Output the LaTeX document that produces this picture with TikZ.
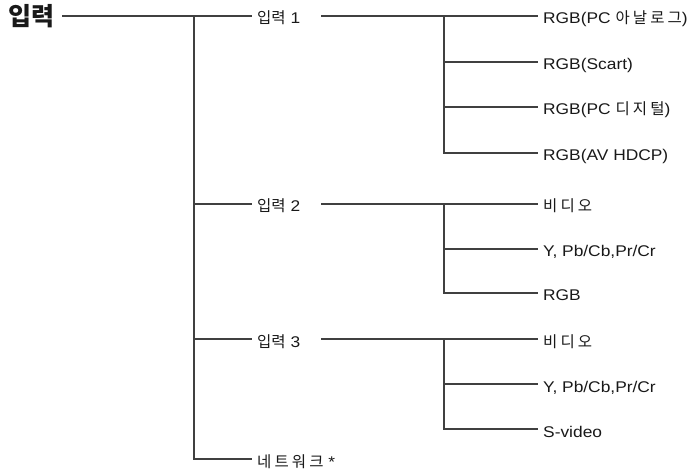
\documentclass[tikz,border=0pt]{standalone}
\usepackage{fontspec}
\setmainfont{Liberation Sans}[FakeStretch=1.12]
\newfontfamily\kr{Noto Sans CJK KR}[LetterSpace=20]
\newfontfamily\krhead{Noto Sans CJK KR}
\usetikzlibrary{positioning}

\begin{document}
\begin{tikzpicture}[x=1pt, y=-1pt,
    wire/.style={draw=black!75, line width=1.2pt},
    item/.style={anchor=west, inner xsep=5pt, inner ysep=0pt, text height=16pt, text depth=0pt,
      text=black!90, font=\fontsize{15.5}{18}\selectfont},
    head/.style={anchor=west, inner sep=0pt, text=black!90, font=\krhead\bfseries\fontsize{25}{28}\selectfont}]
  \useasboundingbox (0,0) rectangle (693,470);

  % first level
  \node[head] (root) at (8,16) {입력};
  \coordinate (j0) at (194,16);
  \node[item] (in1) at (252,16) {{\krhead 입력} 1};
  \node[item] (in2) at (252,204) {{\krhead 입력} 2};
  \node[item] (in3) at (252,339) {{\krhead 입력} 3};
  \node[item] (net) at (252,459) {{\kr 네트워크} *};

  \draw[wire] ([xshift=8pt]root.east) -- (in1.west);
  \draw[wire] (j0) |- (net.west);
  \draw[wire] (j0 |- in2) -- (in2.west);
  \draw[wire] (j0 |- in3) -- (in3.west);

  % input 1
  \coordinate (j1) at (444,16);
  \node[item] (rgbpc) at (538,16) {RGB(PC {\kr 아날로그})};
  \node[item] (scart) at (538,62) {RGB(Scart)};
  \node[item] (rgbdvi) at (538,107) {RGB(PC {\kr 디지털})};
  \node[item] (hdcp) at (538,153) {RGB(AV HDCP)};
  \draw[wire] ([xshift=16pt]in1.east) -- (rgbpc.west);
  \draw[wire] (j1) |- (hdcp.west);
  \draw[wire] (j1 |- scart) -- (scart.west);
  \draw[wire] (j1 |- rgbdvi) -- (rgbdvi.west);

  % input 2
  \coordinate (j2) at (444,204);
  \node[item] (vid2) at (538,204) {\kr 비디오};
  \node[item] (comp2) at (538,249) {Y, Pb/Cb,Pr/Cr};
  \node[item] (rgb2) at (538,293) {RGB};
  \draw[wire] ([xshift=16pt]in2.east) -- (vid2.west);
  \draw[wire] (j2) |- (rgb2.west);
  \draw[wire] (j2 |- comp2) -- (comp2.west);

  % input 3
  \coordinate (j3) at (444,339);
  \node[item] (vid3) at (538,339) {\kr 비디오};
  \node[item] (comp3) at (538,384) {Y, Pb/Cb,Pr/Cr};
  \node[item] (svid) at (538,429) {S-video};
  \draw[wire] ([xshift=16pt]in3.east) -- (vid3.west);
  \draw[wire] (j3) |- (svid.west);
  \draw[wire] (j3 |- comp3) -- (comp3.west);
\end{tikzpicture}
\end{document}
